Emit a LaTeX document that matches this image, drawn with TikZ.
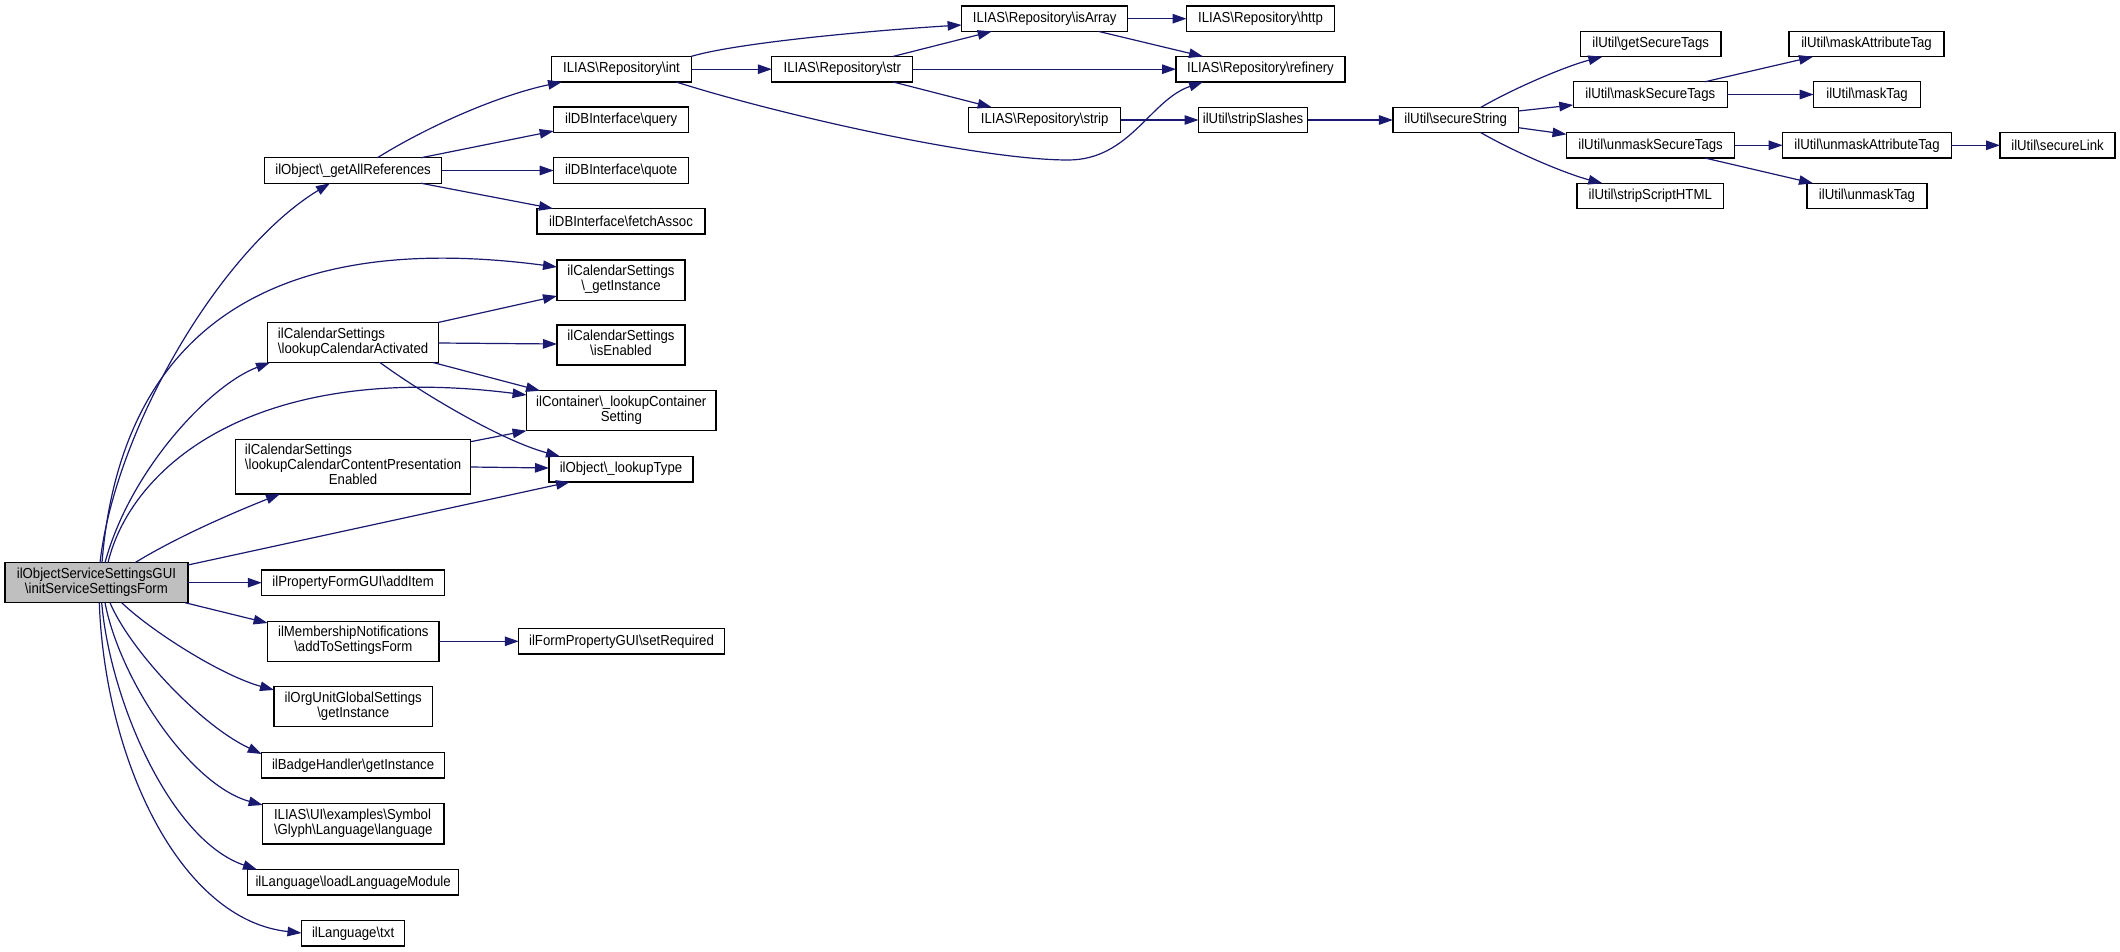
\documentclass[tikz,border=0pt]{standalone}
\usepackage{fontspec}
\setmainfont{Liberation Sans}[FakeStretch=0.91]
\usetikzlibrary{arrows.meta,calc}
\definecolor{edgecol}{HTML}{191970}
\definecolor{rootfill}{HTML}{BFBFBF}
\newcommand{\bs}{\textbackslash}
\newcommand{\lbtwo}[2]{\begin{tabular}{@{}l@{}}#1\\\multicolumn{1}{@{}c@{}}{#2}\end{tabular}}
\newcommand{\lbthree}[3]{\begin{tabular}{@{}l@{}}#1\\#2\\\multicolumn{1}{@{}c@{}}{#3}\end{tabular}}
\begin{document}
\begin{tikzpicture}[x=1pt,y=-1pt,
  box/.style={draw=black, line width=1.3pt, fill=white, inner sep=0pt, outer sep=0pt,
    font=\fontsize{14.5}{14.5}\selectfont},
  sz/.style 2 args={minimum width=#1pt, minimum height=#2pt},
  edge/.style={draw=edgecol, line width=1.2pt, -{Triangle[length=14pt,width=9.5pt]}}]
\useasboundingbox[fill=white] (0,0) rectangle (2120,952);

% nodes
\node[box,sz={183}{40},fill=rootfill] (root) at (96.4,582.7) {\lbtwo{ilObjectServiceSettingsGUI}{\bs initServiceSettingsForm}};
\node[box,sz={177}{25.5}] (gar) at (353.1,170.5) {ilObject\bs\_getAllReferences};
\node[box,sz={140.4}{25.5}] (int) at (621.5,69.2) {ILIAS\bs Repository\bs int};
\node[box,sz={135}{25.5}] (query) at (621.2,119.8) {ilDBInterface\bs query};
\node[box,sz={135}{25.5}] (quote) at (621.2,170.5) {ilDBInterface\bs quote};
\node[box,sz={168}{25.5}] (fetch) at (621,221.3) {ilDBInterface\bs fetchAssoc};
\node[box,sz={128}{40.3}] (calgi) at (621,280) {\lbtwo{ilCalendarSettings}{\bs\_getInstance}};
\node[box,sz={170.8}{40}] (lca) at (353.1,342.5) {\lbtwo{ilCalendarSettings}{\bs lookupCalendarActivated}};
\node[box,sz={128}{40}] (calen) at (621,345) {\lbtwo{ilCalendarSettings}{\bs isEnabled}};
\node[box,sz={189.4}{40}] (cont) at (621.3,410.7) {\lbtwo{ilContainer\bs\_lookupContainer}{Setting}};
\node[box,sz={235}{54.7}] (lccpe) at (353.1,466.7) {\lbthree{ilCalendarSettings}{\bs lookupCalendarContentPresentation}{Enabled}};
\node[box,sz={144}{25.5}] (ltype) at (621,469.2) {ilObject\bs\_lookupType};
\node[box,sz={182.7}{25.5}] (additem) at (353.1,582.7) {ilPropertyFormGUI\bs addItem};
\node[box,sz={171.4}{40}] (memb) at (353.3,641.3) {\lbtwo{ilMembershipNotifications}{\bs addToSettingsForm}};
\node[box,sz={205.5}{25.5}] (setreq) at (621.5,641.3) {ilFormPropertyGUI\bs setRequired};
\node[box,sz={158.4}{40}] (orgu) at (353.2,706.7) {\lbtwo{ilOrgUnitGlobalSettings}{\bs getInstance}};
\node[box,sz={182.7}{25.5}] (badge) at (353.1,765.3) {ilBadgeHandler\bs getInstance};
\node[box,sz={181.3}{40.7}] (glyph) at (353.3,823.7) {\lbtwo{ILIAS\bs UI\bs examples\bs Symbol}{\bs Glyph\bs Language\bs language}};
\node[box,sz={211}{25.5}] (llm) at (353.1,882.3) {ilLanguage\bs loadLanguageModule};
\node[box,sz={103.2}{25.5}] (txt) at (353.1,933.3) {ilLanguage\bs txt};
\node[box,sz={141}{25.5}] (str) at (842.3,69.2) {ILIAS\bs Repository\bs str};
\node[box,sz={166.2}{25.5}] (isarr) at (1044.7,18.7) {ILIAS\bs Repository\bs isArray};
\node[box,sz={148}{25.5}] (http) at (1260.5,18.7) {ILIAS\bs Repository\bs http};
\node[box,sz={169}{25.5}] (refin) at (1260.5,69.2) {ILIAS\bs Repository\bs refinery};
\node[box,sz={152}{25.5}] (strip) at (1044.7,120) {ILIAS\bs Repository\bs strip};
\node[box,sz={109.2}{25.5}] (stsl) at (1253.1,120) {ilUtil\bs stripSlashes};
\node[box,sz={125.5}{25.5}] (secstr) at (1455.7,120) {ilUtil\bs secureString};
\node[box,sz={140.5}{25.5}] (getst) at (1650.7,44) {ilUtil\bs getSecureTags};
\node[box,sz={154}{25.5}] (maskst) at (1650.3,94.5) {ilUtil\bs maskSecureTags};
\node[box,sz={168.2}{25.5}] (unmaskst) at (1650.6,145.3) {ilUtil\bs unmaskSecureTags};
\node[box,sz={146.5}{25.5}] (strscr) at (1650.3,196) {ilUtil\bs stripScriptHTML};
\node[box,sz={155}{25.5}] (maskat) at (1866.5,44) {ilUtil\bs maskAttributeTag};
\node[box,sz={106.7}{25.5}] (masktag) at (1867,94.5) {ilUtil\bs maskTag};
\node[box,sz={168.7}{25.5}] (unmaskat) at (1867,145.3) {ilUtil\bs unmaskAttributeTag};
\node[box,sz={120}{25.5}] (unmasktag) at (1867,196) {ilUtil\bs unmaskTag};
\node[box,sz={115}{25.5}] (seclink) at (2057.5,145.3) {ilUtil\bs secureLink};

% edges from root
\draw[edge] (root.north -| 100,0) .. controls (115,430) and (220,250) .. (gar.south -| 330,0);
\draw[edge] (root.north -| 102,0) .. controls (115,400) and (200,220) .. (calgi.west |- 0,267);
\draw[edge] (root.north -| 105,0) .. controls (130,470) and (210,385) .. (lca.south -| 270,0);
\draw[edge] (root.north -| 108,0) .. controls (130,470) and (250,360) .. (cont.west |- 0,395);
\draw[edge] (root.north -| 135,0) .. controls (180,535) and (240,510) .. (lccpe.south -| 280,0);
\draw[edge] (root.east |- 0,565) -- (ltype.south -| 570,0);
\draw[edge] (root.east) -- (additem.west);
\draw[edge] (root.south -| 185,0) -- (memb.west |- 0,623);
\draw[edge] (root.south -| 121.7,0) .. controls (150,630) and (220,675) .. (orgu.west |- 0,690);
\draw[edge] (root.south -| 110,0) .. controls (130,650) and (200,725) .. (badge.west |- 0,754);
\draw[edge] (root.south -| 105,0) .. controls (120,680) and (190,785) .. (glyph.west |- 0,805);
\draw[edge] (root.south -| 101.7,0) .. controls (110,700) and (170,840) .. (llm.north -| 257,0);
\draw[edge] (root.south -| 99.3,0) .. controls (105,760) and (180,920) .. (txt.west |- 0,933);

% second column
\draw[edge] (gar.north -| 377.4,0) .. controls (430,125) and (500,95) .. (int.south -| 562,0);
\draw[edge] (gar.north -| 421,0) -- (query.west |- 0,131);
\draw[edge] (gar.east) -- (quote.west);
\draw[edge] (gar.south -| 421,0) -- (fetch.north -| 553,0);
\draw[edge] (lca.north -| 438,0) -- (calgi.west |- 0,296);
\draw[edge] (lca.east |- 0,343) -- (calen.west |- 0,344);
\draw[edge] (lca.south -| 433,0) -- (cont.north -| 540,0);
\draw[edge] (lca.south -| 380,0) .. controls (420,392) and (500,440) .. (ltype.north -| 560,0);
\draw[edge] (lccpe.east |- 0,441.7) -- (cont.south west);
\draw[edge] (lccpe.east |- 0,467) -- (ltype.west |- 0,468);
\draw[edge] (memb.east) -- (setreq.west);

% repository
\draw[edge] (int.north -| 691,0) .. controls (740,42) and (880,30) .. (isarr.west |- 0,25);
\draw[edge] (int.south -| 676,0) .. controls (780,115) and (980,160) .. (1068,160) .. controls (1130,160) and (1150,100) .. (refin.south -| 1203,0);
\draw[edge] (int.east) -- (str.west);
\draw[edge] (str.north -| 893,0) -- (isarr.south -| 991.7,0);
\draw[edge] (str.east) -- (refin.west);
\draw[edge] (str.south -| 893,0) -- (strip.north -| 991.7,0);
\draw[edge] (isarr.east) -- (http.west);
\draw[edge] (isarr.south -| 1098.7,0) -- (refin.north -| 1203,0);
\draw[edge] (strip.east) -- (stsl.west);
\draw[edge] (stsl.east) -- (secstr.west);

% util
\draw[edge] (secstr.north -| 1481,0) .. controls (1520,85) and (1570,65) .. (getst.south -| 1602.4,0);
\draw[edge] (secstr.east |- 0,111) -- (maskst.west |- 0,105);
\draw[edge] (secstr.east |- 0,127.7) -- (unmaskst.west |- 0,134.3);
\draw[edge] (secstr.south -| 1481,0) .. controls (1520,155) and (1570,175) .. (strscr.north -| 1602.4,0);
\draw[edge] (maskst.north -| 1705,0) -- (maskat.south -| 1813,0);
\draw[edge] (maskst.east) -- (masktag.west);
\draw[edge] (unmaskst.east) -- (unmaskat.west);
\draw[edge] (unmaskst.south -| 1705,0) -- (unmasktag.north -| 1813,0);
\draw[edge] (unmaskat.east) -- (seclink.west);
\end{tikzpicture}
\end{document}
